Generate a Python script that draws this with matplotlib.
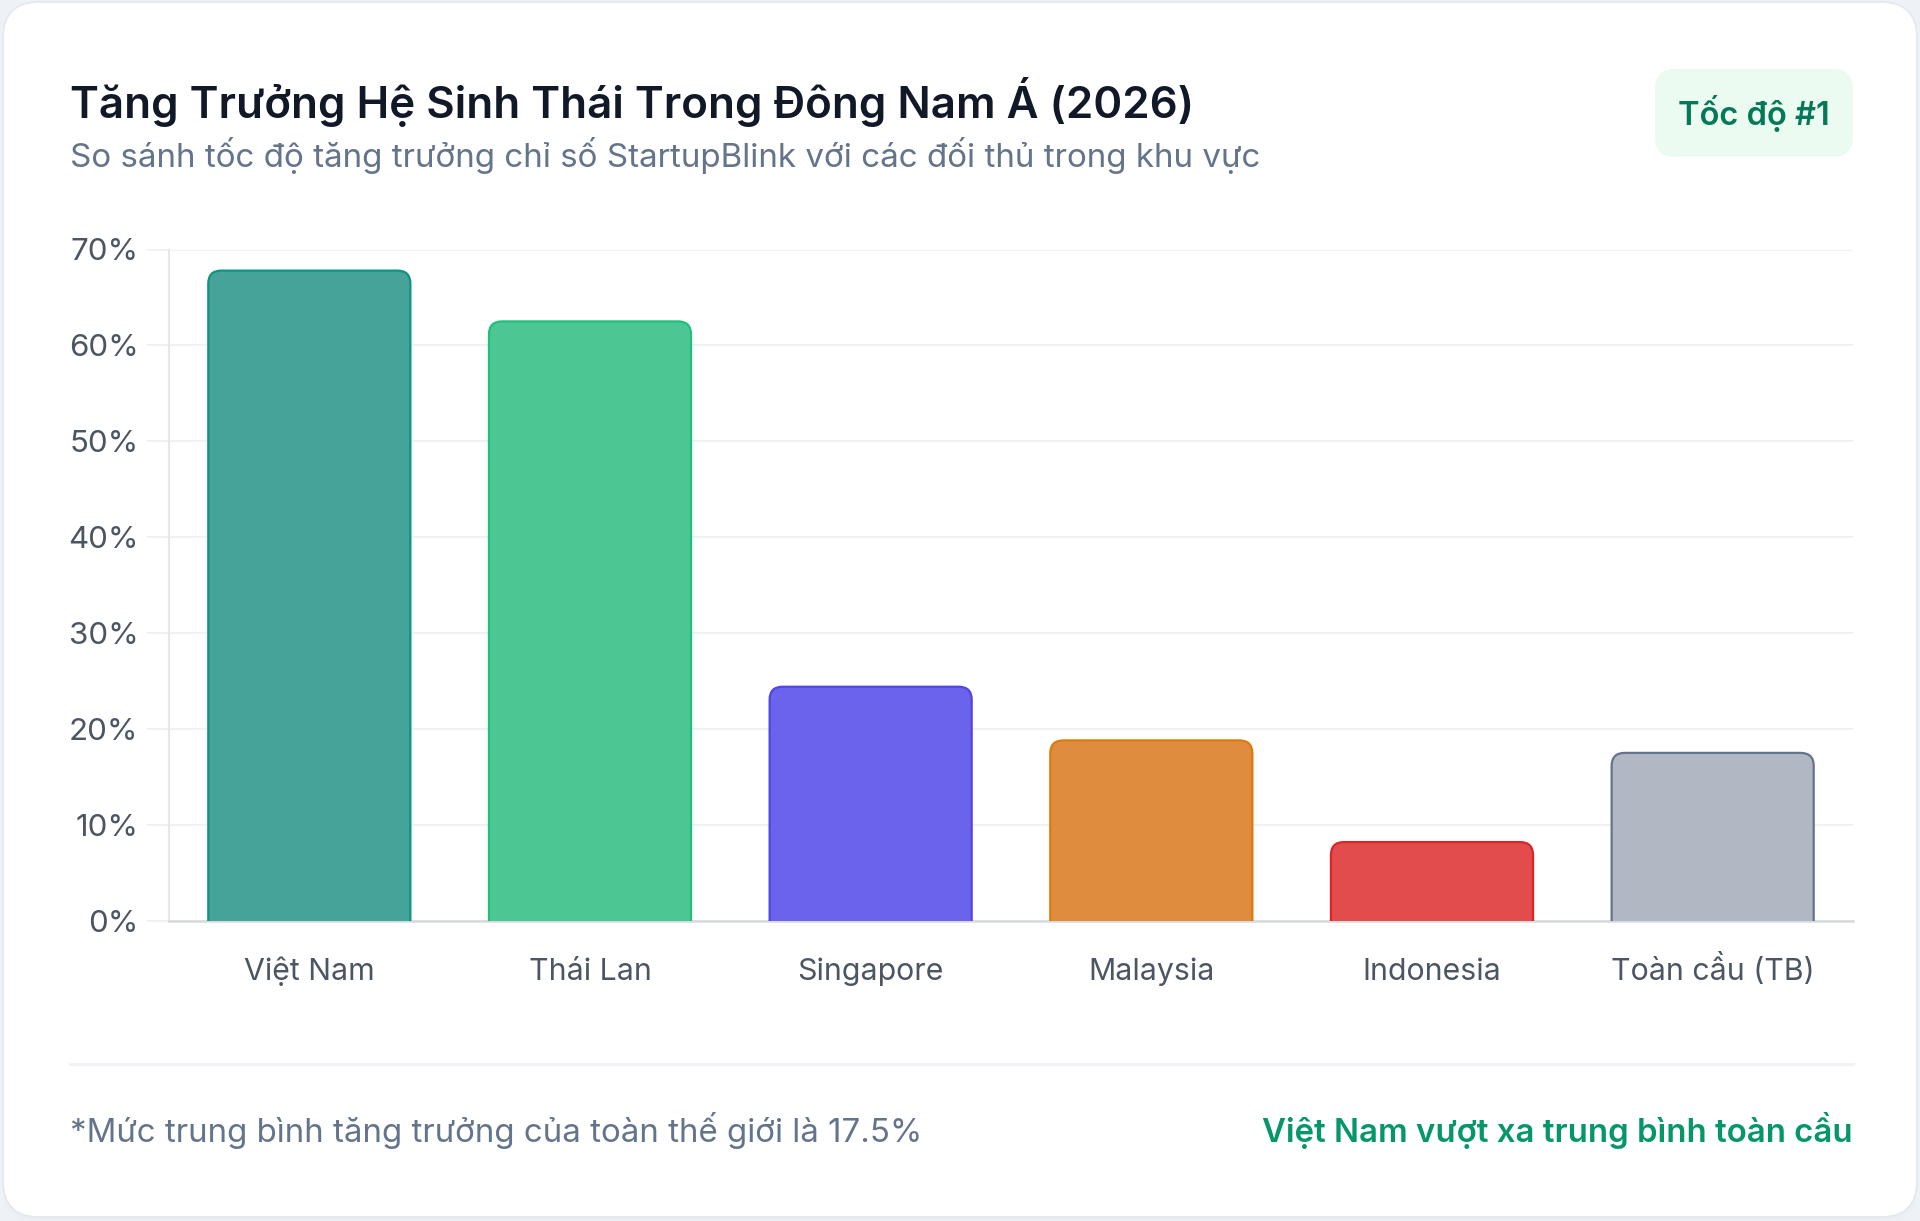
import matplotlib
matplotlib.use('Agg')
import matplotlib.pyplot as plt
from matplotlib.patches import FancyBboxPatch

plt.rcParams['font.family'] = ['Inter', 'DejaVu Sans']

# data
countries = ['Việt Nam', 'Thái Lan', 'Singapore', 'Malaysia', 'Indonesia', 'Toàn cầu (TB)']
growth = [67.8, 62.5, 24.4, 18.8, 8.2, 17.5]
fill_colors = ['#45a399', '#4cc693', '#6b63ec', '#e08c3e', '#e34c4c', '#b1b7c3']
edge_colors = ['#0f9480', '#1fbf7e', '#5046e5', '#dd7a0e', '#dc2626', '#64748b']
yticks = [0, 10, 20, 30, 40, 50, 60, 70]

title = 'Tăng Trưởng Hệ Sinh Thái Trong Đông Nam Á (2026)'
subtitle = 'So sánh tốc độ tăng trưởng chỉ số StartupBlink với các đối thủ trong khu vực'
badge = 'Tốc độ #1'
note_left = '*Mức trung bình tăng trưởng của toàn thế giới là 17.5%'
note_right = 'Việt Nam vượt xa trung bình toàn cầu'

W, H = 1920, 1221
fig = plt.figure(figsize=(W / 100, H / 100), dpi=100, facecolor='#eef1f6')

# background card, pixel coordinates
bg = fig.add_axes([0, 0, 1, 1], zorder=0)
bg.set_xlim(0, W)
bg.set_ylim(H, 0)
bg.axis('off')

for i, a in enumerate([0.025, 0.02, 0.015]):
    bg.add_patch(FancyBboxPatch((3, 2 + 3 * (i + 1)), W - 6, H - 6,
                                boxstyle='round,pad=0,rounding_size=36',
                                fc='#cbd5e1', ec='none', alpha=a))
bg.add_patch(FancyBboxPatch((3, 2), W - 6, H - 6,
                            boxstyle='round,pad=0,rounding_size=36',
                            fc='white', ec='#e2e8f0', lw=1.2))

bg.text(70, 118, title, fontsize=31.6, fontweight='semibold', color='#111827')
bg.text(70, 167, subtitle, fontsize=23.9, color='#64748b')

# badge
bg.add_patch(FancyBboxPatch((1655, 69), 198, 88,
                            boxstyle='round,pad=0,rounding_size=20',
                            fc='#ebfbf1', ec='none'))
bg.text(1754, 113, badge, fontsize=23.5, fontweight='semibold', color='#047857',
        ha='center', va='center')

# footer
bg.plot([70, 1853], [1064, 1064], color='#f1f3f7', lw=2.2)
bg.text(70, 1142, note_left, fontsize=23.8, color='#64748b')
bg.text(1853, 1142, note_right, fontsize=23.75, fontweight='semibold', color='#059669', ha='right')

# chart
left, right, top, bottom = 169, 1853, 249.5, 920.7
ax = fig.add_axes([left / W, 1 - bottom / H, (right - left) / W, (bottom - top) / H], zorder=1)
ax.set_facecolor('none')
ax.set_xlim(-0.5, len(countries) - 0.5)
ax.set_ylim(0, 70)

x = range(len(countries))
bars = ax.bar(x, growth, width=0.72)

# rounded top corners, square bottom (bottom rounding clipped by the axes)
px_x = (right - left) / len(countries)
px_y = (bottom - top) / 70
r_px = 13
rx = r_px / px_x
ry = r_px / px_y
for b, fc, ec in zip(bars, fill_colors, edge_colors):
    bx, bw, bh = b.get_x(), b.get_width(), b.get_height()
    b.remove()
    p = FancyBboxPatch((bx, -ry), bw, bh + ry,
                       boxstyle=f'round,pad=0,rounding_size={rx}',
                       mutation_aspect=ry / rx,
                       fc=fc, ec=ec, lw=1.6, zorder=3)
    ax.add_patch(p)

ax.set_yticks(yticks)
ax.set_yticklabels([f'{v}%' for v in yticks])
ax.set_xticks(list(x))
ax.set_xticklabels(countries)
ax.yaxis.grid(True, color='#eef0f3', lw=1.3)
ax.set_axisbelow(True)

ax.tick_params(axis='y', length=16, width=1.3, color='#eef0f3', pad=6,
               labelsize=22.5, labelcolor='#4b5563')
ax.tick_params(axis='x', length=0, pad=42.5, labelsize=21.8, labelcolor='#4b5563')
for lab in ax.get_xticklabels():
    lab.set_verticalalignment('baseline')

for s in ['top', 'right']:
    ax.spines[s].set_visible(False)
ax.spines['left'].set_color('#e5e7eb')
ax.spines['left'].set_linewidth(1.5)
ax.spines['bottom'].set_color('#d6d9de')
ax.spines['bottom'].set_linewidth(1.8)

plt.savefig('out.png', dpi=100, facecolor=fig.get_facecolor())
